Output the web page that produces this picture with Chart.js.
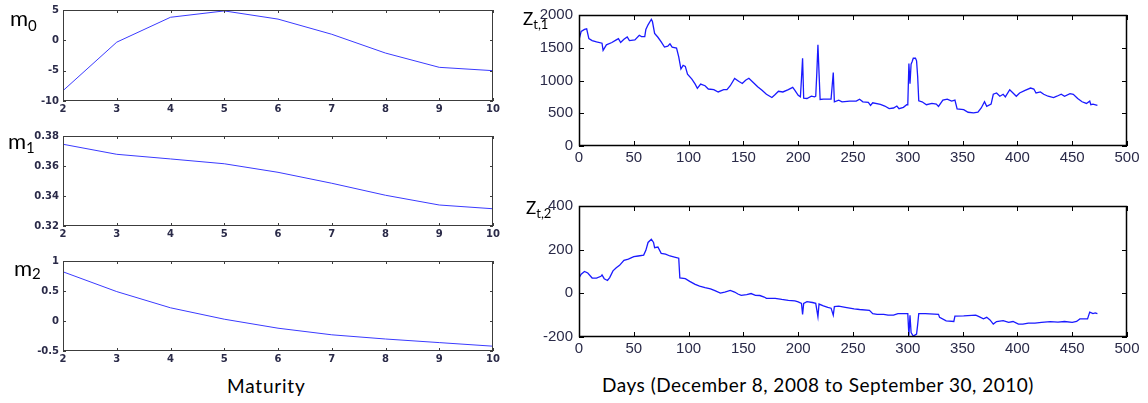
<!DOCTYPE html>
<html>
<head>
<meta charset="utf-8">
<script src="https://cdn.jsdelivr.net/npm/chart.js@4/dist/chart.umd.min.js"></script>
<style>
  body { margin: 0; background: #fff; }
  #page { position: relative; width: 1148px; height: 403px; overflow: hidden; }
  canvas { position: absolute; }
  .lbl { position: absolute; font-family: Lato, "Open Sans", sans-serif; color: #000; line-height: 1; white-space: nowrap; }
  .lbl .sub { position: relative; }
</style>
</head>
<body>
<div id="page">
  <canvas id="m0Chart" width="507" height="123" style="left:0;top:0"></canvas>
  <canvas id="m1Chart" width="507" height="122" style="left:0;top:126px"></canvas>
  <canvas id="m2Chart" width="507" height="122" style="left:0;top:251px"></canvas>
  <canvas id="z1Chart" width="628" height="174" style="left:519px;top:0"></canvas>
  <canvas id="z2Chart" width="628" height="174" style="left:519px;top:191px"></canvas>

  <div class="lbl" style="left:10px;top:7px;font-size:22px">m<span class="sub" style="font-size:15px;top:5px">0</span></div>
  <div class="lbl" style="left:8px;top:130px;font-size:22px">m<span class="sub" style="font-size:15px;top:4px">1</span></div>
  <div class="lbl" style="left:14px;top:257px;font-size:22px">m<span class="sub" style="font-size:15px;top:3px">2</span></div>
  <div class="lbl" style="left:523px;top:10px;font-size:17px">Z<span class="sub" style="font-size:13px;top:4px">t,1</span></div>
  <div class="lbl" style="left:526px;top:199px;font-size:17px">Z<span class="sub" style="font-size:13px;top:4px">t,2</span></div>
  <div class="lbl" style="left:227px;top:376px;font-size:19px;letter-spacing:0.8px">Maturity</div>
  <div class="lbl" style="left:602px;top:375px;font-size:19px;letter-spacing:0.5px">Days (December 8, 2008 to September 30, 2010)</div>
</div>

<script>
// --- Data ---
const maturity = [2, 3, 4, 5, 6, 7, 8, 9, 10];
const m0 = [-8.3, -0.3, 3.8, 4.85, 3.5, 1.0, -2.1, -4.45, -5.0];
const m1 = [0.3745, 0.3678, 0.3647, 0.3615, 0.3558, 0.3485, 0.3405, 0.334, 0.3315];
const m2 = [0.82, 0.49, 0.22, 0.03, -0.12, -0.23, -0.30, -0.36, -0.42];

const z1Days = [0, 2, 5, 7, 9, 12, 16, 21, 22, 25, 30, 34, 36, 38, 41, 44, 46, 51, 55, 57, 60, 61, 63, 66, 67, 69, 72, 75, 78, 81, 83, 85, 89, 91, 93, 95, 97, 99, 103, 106, 108, 111, 115, 118, 123, 127, 132, 135, 138, 142, 146, 149, 152, 155, 159, 163, 167, 171, 176, 179, 182, 186, 191, 195, 197, 200, 202, 203, 204, 205, 208, 212, 215, 216, 217, 218, 219, 220, 223, 230, 231, 232, 233, 237, 240, 247, 253, 256, 259, 264, 266, 268, 275, 279, 283, 287, 290, 292, 296, 299, 300, 301, 302, 303, 304, 305, 306, 307, 308, 309, 310, 313, 317, 322, 326, 328, 332, 336, 340, 343, 345, 351, 355, 360, 364, 367, 370, 372, 376, 378, 381, 384, 387, 389, 393, 396, 399, 402, 407, 412, 415, 417, 421, 424, 428, 433, 436, 440, 443, 448, 451, 455, 459, 463, 466, 467, 469, 473];
const z1 = [1620, 1750, 1780, 1790, 1640, 1610, 1590, 1570, 1460, 1545, 1580, 1620, 1640, 1580, 1630, 1665, 1610, 1620, 1690, 1670, 1670, 1780, 1850, 1935, 1900, 1720, 1660, 1590, 1510, 1525, 1560, 1510, 1495, 1360, 1175, 1230, 1215, 1095, 1020, 945, 880, 945, 920, 870, 860, 825, 860, 860, 920, 1030, 985, 955, 1005, 1035, 970, 905, 850, 790, 740, 785, 835, 825, 860, 895, 850, 775, 750, 1030, 1340, 730, 725, 760, 750, 760, 1120, 1545, 1120, 710, 715, 715, 920, 1120, 675, 700, 675, 685, 685, 715, 675, 665, 620, 660, 635, 610, 570, 580, 610, 570, 590, 630, 630, 1260, 950, 1250, 1290, 1340, 1340, 1340, 1300, 1060, 690, 675, 630, 650, 640, 605, 700, 715, 685, 700, 565, 555, 515, 505, 515, 580, 675, 605, 640, 790, 810, 760, 790, 750, 860, 810, 760, 810, 850, 885, 870, 810, 825, 790, 760, 740, 760, 790, 760, 800, 790, 725, 675, 650, 685, 630, 640, 620];

const z2Days = [0, 2, 5, 8, 12, 16, 20, 21, 23, 26, 28, 31, 34, 37, 41, 45, 50, 54, 59, 61, 63, 66, 68, 69, 72, 75, 79, 83, 88, 91, 92, 97, 101, 106, 110, 115, 120, 124, 129, 133, 138, 142, 145, 148, 153, 157, 161, 165, 169, 171, 179, 185, 191, 197, 200, 203, 204, 205, 208, 213, 216, 218, 219, 223, 227, 230, 232, 233, 237, 243, 251, 256, 265, 268, 272, 278, 282, 287, 291, 299, 300, 301, 302, 303, 305, 308, 309, 310, 316, 328, 329, 335, 342, 343, 351, 362, 365, 369, 372, 375, 378, 381, 387, 392, 396, 401, 405, 410, 416, 422, 430, 437, 443, 450, 454, 457, 464, 466, 469, 471, 473];
const z2 = [71, 88, 100, 93, 70, 70, 78, 84, 67, 59, 72, 103, 117, 128, 151, 157, 168, 171, 175, 197, 233, 248, 233, 209, 212, 183, 180, 171, 165, 161, 71, 67, 55, 41, 33, 26, 20, 12, 1, 6, 13, 6, -3, -9, -6, -1, -9, -10, -17, -23, -23, -28, -32, -35, -39, -46, -97, -46, -38, -42, -46, -107, -49, -57, -64, -68, -100, -61, -59, -64, -71, -74, -78, -93, -96, -96, -100, -100, -93, -93, -93, -194, -100, -180, -196, -187, -143, -93, -93, -96, -110, -126, -129, -104, -103, -100, -107, -117, -110, -122, -141, -129, -125, -133, -129, -141, -141, -136, -136, -133, -130, -132, -129, -133, -129, -117, -117, -86, -93, -90, -93];

// --- Plugin: MATLAB style box with inward ticks ---
const boxTicks = {
  id: 'boxTicks',
  afterDatasetsDraw(chart, args, opts) {
    const { ctx, chartArea: a, scales: { x, y } } = chart;
    ctx.save();
    ctx.strokeStyle = opts.color;
    ctx.lineWidth = opts.width;
    ctx.beginPath();
    x.ticks.forEach(t => {
      const px = Math.round(x.getPixelForValue(t.value)) + 0.5;
      ctx.moveTo(px, a.bottom); ctx.lineTo(px, a.bottom - opts.len);
      ctx.moveTo(px, a.top); ctx.lineTo(px, a.top + opts.len);
    });
    y.ticks.forEach(t => {
      const py = Math.round(y.getPixelForValue(t.value)) + 0.5;
      ctx.moveTo(a.left, py); ctx.lineTo(a.left + opts.len, py);
      ctx.moveTo(a.right, py); ctx.lineTo(a.right - opts.len, py);
    });
    ctx.stroke();
    ctx.lineWidth = opts.frame;
    ctx.strokeRect(a.left + 0.5, a.top + 0.5, a.right - a.left - 1, a.bottom - a.top - 1);
    ctx.restore();
  }
};

// --- Chart builder ---
function makeChart(id, points, o) {
  return new Chart(document.getElementById(id), {
    type: 'line',
    data: {
      datasets: [{
        data: points,
        borderColor: o.lineColor,
        borderWidth: o.lineWidth,
        pointRadius: 0,
        tension: 0,
        fill: false
      }]
    },
    options: {
      responsive: false,
      animation: false,
      events: [],
      layout: { padding: { top: o.padTop, right: o.padRight, left: 0, bottom: 0 } },
      plugins: {
        legend: { display: false },
        tooltip: { enabled: false },
        boxTicks: { color: o.frameColor, width: 1, len: o.tickLen, frame: o.frameWidth }
      },
      scales: {
        x: {
          type: 'linear',
          min: o.xMin, max: o.xMax,
          grid: { display: false, drawTicks: false },
          border: { display: false },
          afterFit: s => { s.height = o.xH; },
          ticks: {
            stepSize: o.xStep, autoSkip: false, maxRotation: 0,
            padding: o.xPad, color: o.tickColor, font: o.font,
            callback: v => String(v)
          }
        },
        y: {
          min: o.yMin, max: o.yMax,
          grid: { display: false, drawTicks: false },
          border: { display: false },
          afterFit: s => { s.width = o.yW; },
          ticks: {
            stepSize: o.yStep, autoSkip: false,
            padding: o.yPad, color: o.tickColor, font: o.font,
            callback: v => String(Math.round(v * 1000) / 1000)
          }
        }
      }
    },
    plugins: [boxTicks]
  });
}

function toPoints(xs, ys) {
  return xs.map((x, i) => ({ x, y: ys[i] }));
}

// --- Left column: loadings vs maturity ---
const leftOpts = {
  lineColor: '#3a3aff', lineWidth: 1,
  frameColor: '#3c3c3c', frameWidth: 1, tickLen: 3,
  padTop: 10, padRight: 14, xH: 22, yW: 63,
  xMin: 2, xMax: 10, xStep: 1, xPad: 2, yPad: 4,
  tickColor: '#2a2a48',
  font: { family: 'DejaVu Sans', size: 10, weight: 'bold' }
};
makeChart('m0Chart', toPoints(maturity, m0), { ...leftOpts, yMin: -10, yMax: 5, yStep: 5 });
makeChart('m1Chart', toPoints(maturity, m1), { ...leftOpts, yMin: 0.32, yMax: 0.38, yStep: 0.02 });
makeChart('m2Chart', toPoints(maturity, m2), { ...leftOpts, yMin: -0.5, yMax: 1, yStep: 0.5 });

// --- Right column: factors over days ---
const rightOpts = {
  lineColor: '#1a1aff', lineWidth: 1.3,
  frameColor: '#000', frameWidth: 1.5, tickLen: 5,
  padTop: 10, padRight: 20, xH: 28, yW: 60,
  xMin: 0, xMax: 500, xStep: 50, xPad: 3, yPad: 6,
  tickColor: '#2a2a48',
  font: { family: 'Liberation Sans', size: 15 }
};
makeChart('z1Chart', toPoints(z1Days, z1), { ...rightOpts, yMin: 0, yMax: 2000, yStep: 500 });
makeChart('z2Chart', toPoints(z2Days, z2), { ...rightOpts, yMin: -200, yMax: 400, yStep: 200 });
</script>
</body>
</html>
